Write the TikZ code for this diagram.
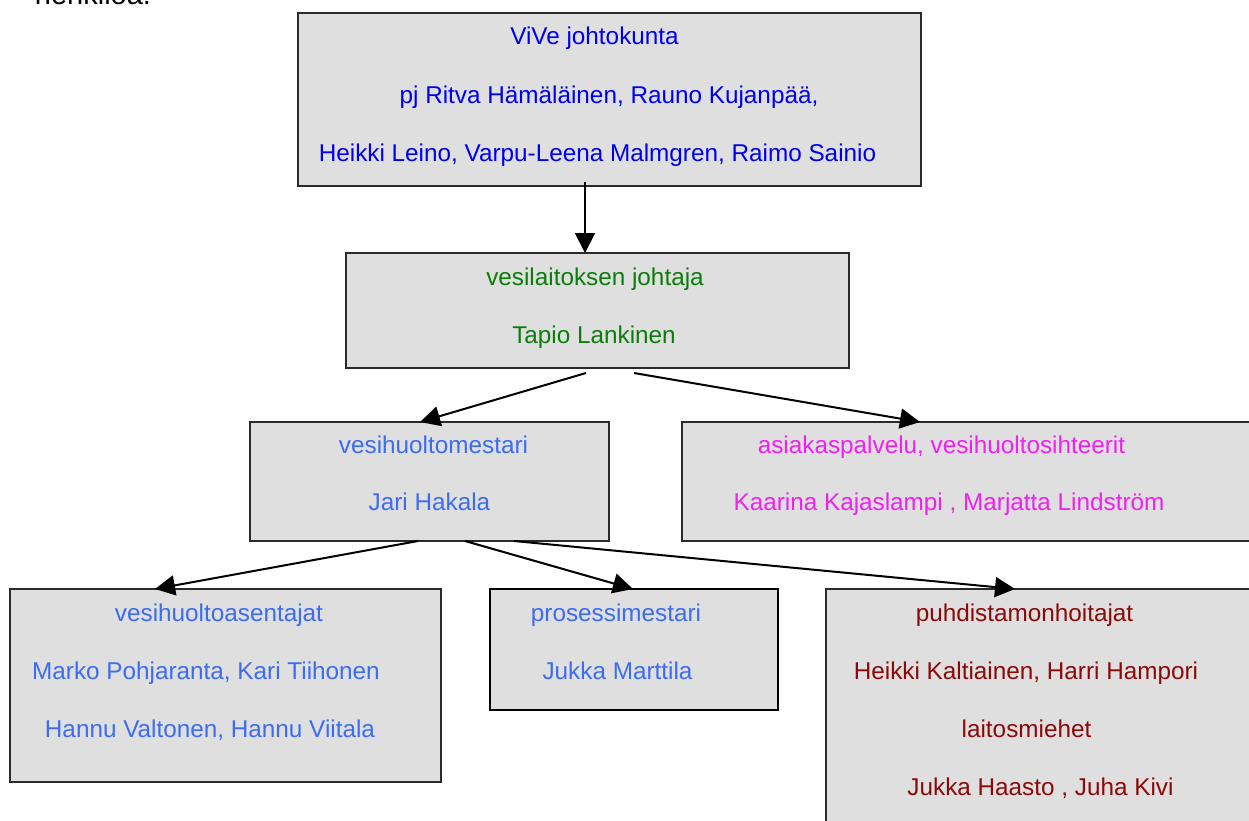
\documentclass[tikz,border=0pt]{standalone}
\usepackage{fontspec}
\setmainfont{Liberation Sans}
\usetikzlibrary{arrows.meta}
\definecolor{boxgray}{HTML}{DFDFDF}
\definecolor{edgegray}{HTML}{2A2A2A}
\definecolor{viveblue}{HTML}{0000F0}
\definecolor{jgreen}{HTML}{0A7D0A}
\definecolor{lightblue}{HTML}{3C6CF0}
\definecolor{pmag}{HTML}{F020F0}
\definecolor{dred}{HTML}{8A0A0A}

\begin{document}
\begin{tikzpicture}[x=1pt,y=-1pt,
	box/.style={draw=edgegray,fill=boxgray,line width=1.4pt,outer sep=0pt,inner sep=0pt},
	txt/.style={anchor=base,inner sep=0pt,font=\fontsize{24.3}{28}\selectfont},
	arr/.style={line width=2pt,-{Triangle[length=20pt,width=20pt]}}]

	\useasboundingbox (0,0) rectangle (1249,821);
	\clip (0,0) rectangle (1249,821);

	\node[anchor=base,inner sep=0pt,font=\fontsize{29}{32}\selectfont] (prev) at (93,5) {henkilöä.};

	% boxes
	\node[box,minimum width=623pt,minimum height=173pt] (vive) at (609.5,99.5) {};
	\node[box,minimum width=503pt,minimum height=115pt] (johtaja) at (597.5,310.5) {};
	\node[box,minimum width=359pt,minimum height=119pt] (mestari) at (429.5,481.5) {};
	\node[box,minimum width=578pt,minimum height=119pt] (asiakas) at (971,481.5) {};
	\node[box,minimum width=431pt,minimum height=193pt] (asentajat) at (225.5,685.5) {};
	\node[box,line width=2.2pt,draw=black,minimum width=288pt,minimum height=121pt] (prosessi) at (634,649.5) {};
	\node[box,minimum width=434pt,minimum height=251pt] (puhdistamo) at (1043,714.5) {};

	% texts
	\node[txt,viveblue] (vive1) at (594.5,45) {ViVe johtokunta};
	\node[txt,viveblue] (vive2) at (609,104) {pj Ritva Hämäläinen, Rauno Kujanpää,};
	\node[txt,viveblue] (vive3) at (597.5,162) {Heikki Leino, Varpu-Leena Malmgren, Raimo Sainio};

	\node[txt,jgreen] (johtaja1) at (595,285) {vesilaitoksen johtaja};
	\node[txt,jgreen] (johtaja2) at (594,343) {Tapio Lankinen};

	\node[txt,lightblue] (mestari1) at (433.5,453) {vesihuoltomestari};
	\node[txt,lightblue] (mestari2) at (429.5,510) {Jari Hakala};

	\node[txt,pmag] (asiakas1) at (941.5,453) {asiakaspalvelu, vesihuoltosihteerit};
	\node[txt,pmag] (asiakas2) at (949,510) {Kaarina Kajaslampi , Marjatta Lindström};

	\node[txt,lightblue] (asentajat1) at (219,621) {vesihuoltoasentajat};
	\node[txt,lightblue] (asentajat2) at (206,679) {Marko Pohjaranta, Kari Tiihonen};
	\node[txt,lightblue] (asentajat3) at (210,737) {Hannu Valtonen, Hannu Viitala};

	\node[txt,lightblue] (prosessi1) at (616,621) {prosessimestari};
	\node[txt,lightblue] (prosessi2) at (617.5,679) {Jukka Marttila};

	\node[txt,dred] (puhd1) at (1024.5,621) {puhdistamonhoitajat};
	\node[txt,dred] (puhd2) at (1026,679) {Heikki Kaltiainen, Harri Hampori};
	\node[txt,dred] (puhd3) at (1026.5,737) {laitosmiehet};
	\node[txt,dred] (puhd4) at (1040.5,795) {Jukka Haasto , Juha Kivi};

	% arrows
	\draw[arr] ([xshift=-24.5pt,yshift=4pt]vive.south) -- ([xshift=-12.5pt]johtaja.north);
	\draw[arr] ([xshift=-11.5pt,yshift=-5pt]johtaja.south) -- ([xshift=-9.5pt]mestari.north);
	\draw[arr] ([xshift=36.5pt,yshift=-5pt]johtaja.south) -- ([xshift=-51pt]asiakas.north);
	\draw[arr] ([xshift=-11.5pt]mestari.south) -- ([xshift=-70.5pt]asentajat.north);
	\draw[arr] ([xshift=35.5pt]mestari.south) -- ([xshift=-1pt]prosessi.north);
	\draw[arr] ([xshift=84.5pt]mestari.south) -- ([xshift=-28pt]puhdistamo.north);

\end{tikzpicture}
\end{document}
